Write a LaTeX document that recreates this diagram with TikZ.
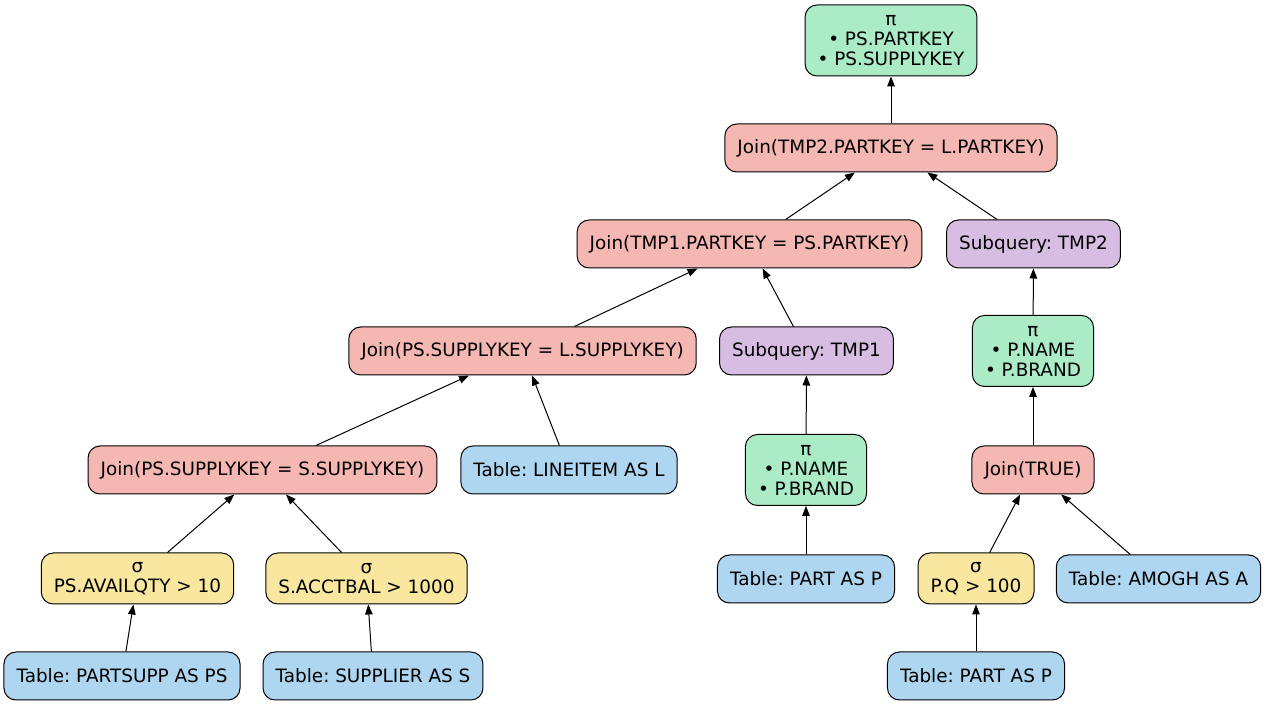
\documentclass[tikz,border=0pt]{standalone}
\usepackage{fontspec}
\setmainfont{DejaVu Sans}
\usepackage{tikz}
\usetikzlibrary{arrows.meta}
\frenchspacing

\definecolor{projc}{HTML}{ABEBC6}
\definecolor{joinc}{HTML}{F5B7B1}
\definecolor{subc}{HTML}{D7BDE2}
\definecolor{selc}{HTML}{F9E79F}
\definecolor{tblc}{HTML}{AED6F1}

\begin{document}
\begin{tikzpicture}[x=0.5pt, y=-0.5pt]
	\tikzset{every node/.style = {draw, line width=0.5pt, rounded corners=6pt, align=center,
		font=\fontsize{9.2}{10}\selectfont, minimum height=24pt, inner xsep=6.3pt, inner ysep=2.5pt},
		projbox/.style = {fill=projc, minimum height=35.5pt},
		joinbox/.style = {fill=joinc},
		subbox/.style = {fill=subc},
		selbox/.style = {fill=selc, minimum height=25.5pt},
		tblbox/.style = {fill=tblc},
		arr/.style = {line width=0.5pt, -{Triangle[length=5pt, width=3.8pt]}}}
	\useasboundingbox (0,0) rectangle (1265,705);
	\node [projbox] (p0) at (891, 40.5) {π\\• PS.PARTKEY\\• PS.SUPPLYKEY};
	\node [joinbox] (j2) at (891, 148) {Join(TMP2.PARTKEY = L.PARTKEY)};
	\node [joinbox] (j1) at (749.5, 244) {Join(TMP1.PARTKEY = PS.PARTKEY)};
	\node [subbox] (s2) at (1033.5, 244) {Subquery: TMP2};
	\node [joinbox] (j3) at (522.5, 351) {Join(PS.SUPPLYKEY = L.SUPPLYKEY)};
	\node [subbox] (s1) at (806.5, 351) {Subquery: TMP1};
	\node [projbox] (p2) at (1033, 351) {π\\• P.NAME\\• P.BRAND};
	\node [joinbox] (j4) at (262.5, 470) {Join(PS.SUPPLYKEY = S.SUPPLYKEY)};
	\node [tblbox] (tl) at (569, 470) {Table: LINEITEM AS L};
	\node [projbox] (p1) at (806, 470) {π\\• P.NAME\\• P.BRAND};
	\node [joinbox] (jt) at (1033, 470) {Join(TRUE)};
	\node [selbox] (f1) at (137.5, 578.5) {σ\\PS.AVAILQTY > 10};
	\node [selbox] (f2) at (366.5, 578.5) {σ\\S.ACCTBAL > 1000};
	\node [tblbox] (tp1) at (806, 579) {Table: PART AS P};
	\node [selbox] (f3) at (976, 578.5) {σ\\P.Q > 100};
	\node [tblbox] (ta) at (1158.5, 579) {Table: AMOGH AS A};
	\node [tblbox] (tps) at (122, 676) {Table: PARTSUPP AS PS};
	\node [tblbox] (ts) at (373, 676) {Table: SUPPLIER AS S};
	\node [tblbox] (tp2) at (976, 676) {Table: PART AS P};
	\draw [arr] (j2)--(p0);
	\draw [arr] (j1)--(j2);
	\draw [arr] (s2)--(j2);
	\draw [arr] (j3)--(j1);
	\draw [arr] (s1)--(j1);
	\draw [arr] (p2)--(s2);
	\draw [arr] (j4)--(j3);
	\draw [arr] (tl)--(j3);
	\draw [arr] (p1)--(s1);
	\draw [arr] (jt)--(p2);
	\draw [arr] (f1)--(j4);
	\draw [arr] (f2)--(j4);
	\draw [arr] (tp1)--(p1);
	\draw [arr] (f3)--(jt);
	\draw [arr] (ta)--(jt);
	\draw [arr] (tps)--(f1);
	\draw [arr] (ts)--(f2);
	\draw [arr] (tp2)--(f3);
\end{tikzpicture}
\end{document}
